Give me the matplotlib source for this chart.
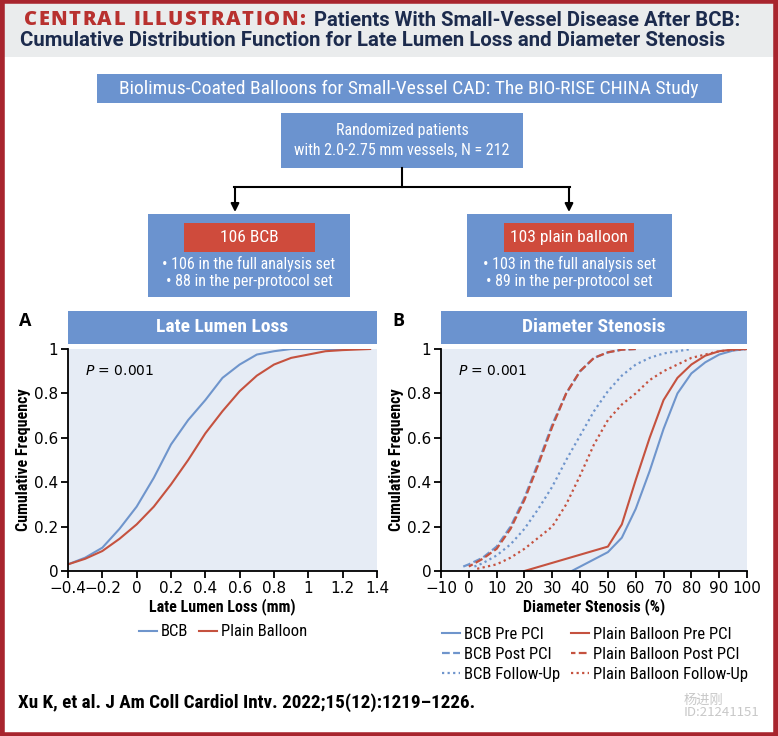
import matplotlib
matplotlib.use('Agg')
import matplotlib.pyplot as plt
from matplotlib.patches import Rectangle, FancyArrowPatch
from matplotlib.lines import Line2D
from matplotlib import font_manager

# 데이터: Late Lumen Loss (mm)
lll_bcb_x = [-0.4, -0.3, -0.2, -0.1, 0, 0.1, 0.2, 0.3, 0.4, 0.5, 0.6, 0.7, 0.8, 0.9, 1.0, 1.2]
lll_bcb_y = [0.03, 0.06, 0.105, 0.19, 0.29, 0.42, 0.57, 0.68, 0.77, 0.87, 0.93, 0.975, 0.99, 1.0, 1.0, 1.0]
lll_pb_x = [-0.4, -0.3, -0.2, -0.1, 0, 0.1, 0.2, 0.3, 0.4, 0.5, 0.6, 0.7, 0.8, 0.9, 1.0, 1.1, 1.2, 1.36]
lll_pb_y = [0.03, 0.055, 0.09, 0.145, 0.21, 0.29, 0.39, 0.5, 0.62, 0.72, 0.81, 0.88, 0.93, 0.96, 0.975, 0.99, 0.995, 1.0]

# 데이터: Diameter Stenosis (%)
ds_bcb_pre_x = [37, 50, 55, 60, 65, 70, 75, 80, 85, 90, 95, 100]
ds_bcb_pre_y = [0, 0.085, 0.15, 0.28, 0.45, 0.64, 0.8, 0.89, 0.94, 0.975, 0.993, 1.0]
ds_pb_pre_x = [20, 50, 55, 60, 65, 70, 75, 80, 85, 90, 95, 100]
ds_pb_pre_y = [0, 0.11, 0.21, 0.41, 0.6, 0.77, 0.87, 0.93, 0.97, 0.99, 0.998, 1.0]
ds_bcb_post_x = [-2, 0, 5, 10, 15, 20, 25, 30, 35, 40, 45, 50, 55, 60]
ds_bcb_post_y = [0.02, 0.03, 0.06, 0.11, 0.2, 0.33, 0.49, 0.66, 0.8, 0.9, 0.96, 0.985, 0.997, 1.0]
ds_pb_post_x = [0, 5, 10, 15, 20, 25, 30, 35, 40, 45, 50, 55, 60]
ds_pb_post_y = [0.02, 0.055, 0.1, 0.19, 0.32, 0.48, 0.65, 0.8, 0.9, 0.96, 0.985, 0.997, 1.0]
ds_bcb_fu_x = [2, 5, 10, 15, 20, 25, 30, 35, 40, 45, 50, 55, 60, 65, 70, 80]
ds_bcb_fu_y = [0.02, 0.035, 0.07, 0.12, 0.19, 0.28, 0.38, 0.5, 0.61, 0.72, 0.81, 0.88, 0.93, 0.96, 0.98, 1.0]
ds_pb_fu_x = [3, 10, 15, 20, 25, 30, 35, 40, 45, 50, 55, 60, 65, 70, 80, 90, 100]
ds_pb_fu_y = [0.01, 0.03, 0.06, 0.1, 0.15, 0.2, 0.3, 0.43, 0.57, 0.68, 0.75, 0.8, 0.86, 0.9, 0.96, 0.99, 1.0]

yticks = [0, 0.2, 0.4, 0.6, 0.8, 1]
ytick_labels = ['0', '0.2', '0.4', '0.6', '0.8', '1']
lll_ticks = [-0.4, -0.2, 0, 0.2, 0.4, 0.6, 0.8, 1.0, 1.2, 1.4]
lll_tick_labels = ['\u22120.4', '\u22120.2', '0', '0.2', '0.4', '0.6', '0.8', '1', '1.2', '1.4']
ds_ticks = list(range(-10, 101, 10))
ds_tick_labels = ['\u221210'] + [str(t) for t in ds_ticks[1:]]

# 색상
BLUE_BOX = '#6b93cf'
RED_BOX = '#cf4b3c'
PANEL_BG = '#e6ecf5'
LINE_BLUE = '#6f95cc'
LINE_RED = '#c5523f'
NAVY = '#1c2b4d'
TITLE_RED = '#b8312f'

# 글꼴 선택
names = set(f.name for f in font_manager.fontManager.ttflist)
if 'Roboto Condensed' in names:
    NARROW = ['Roboto Condensed', 'DejaVu Sans']
elif 'Liberation Sans Narrow' in names:
    NARROW = ['Liberation Sans Narrow', 'DejaVu Sans']
else:
    NARROW = ['Roboto', 'DejaVu Sans']
WIDE = ['Open Sans', 'DejaVu Sans']
TICKF = ['DejaVu Sans']
plt.rcParams['font.family'] = TICKF
plt.rcParams['mathtext.fontset'] = 'dejavusans'

W, H = 778, 736
fig = plt.figure(figsize=(W / 100, H / 100), dpi=100)
renderer = fig.canvas.get_renderer()


def fx(x):
    return x / W


def fy(y):
    return 1 - y / H


def rect(x0, y0, x1, y1, color, z=0):
    fig.add_artist(Rectangle((fx(x0), fy(y1)), (x1 - x0) / W, (y1 - y0) / H,
                             transform=fig.transFigure, facecolor=color,
                             edgecolor='none', zorder=z))


def text(x, y, s, **kw):
    return fig.text(fx(x), fy(y), s, **kw)


def fit(t, width):
    # 글자 폭을 참조 그림에 맞춤
    w = t.get_window_extent(renderer).width
    t.set_fontsize(t.get_fontsize() * width / w)
    return t.get_window_extent(renderer)


def spaced(x, y, s, width, **kw):
    # 자간을 넓힌 제목 글자
    glyphs = []
    for ch in s:
        g = text(0, 0, ch, ha='left', **kw)
        glyphs.append((ch, g, g.get_window_extent(renderer).width))
    space_w = 0.28 * kw['fontsize'] * 100 / 72
    natural = sum(w if ch != ' ' else space_w for ch, g, w in glyphs)
    gap = (width - natural) / (len(s) - 1)
    cur = x
    for ch, g, w in glyphs:
        if ch == ' ':
            g.remove()
            cur += space_w + gap
            continue
        g.set_position((fx(cur), fy(y)))
        cur += w + gap
    return cur - gap


# 상단 제목 영역
rect(0, 0, W, 57, '#eaeced')
end1 = spaced(24, 20, 'CENTRAL ILLUSTRATION:', 281, color=TITLE_RED, fontsize=14.5,
              fontweight='heavy', family=WIDE, va='center')
t2 = text(end1 + 9, 20, 'Patients With Small-Vessel Disease After BCB:', color=NAVY,
          fontsize=15, fontweight='bold', family=['Roboto', 'DejaVu Sans'], va='center', ha='left')
fit(t2, 742 - end1 - 9)
t3 = text(20, 40, 'Cumulative Distribution Function for Late Lumen Loss and Diameter Stenosis',
          color=NAVY, fontsize=15, fontweight='bold', family=['Roboto', 'DejaVu Sans'],
          va='center', ha='left')
fit(t3, 710)

# 흐름도 상자
rect(97, 74, 722, 103, BLUE_BOX)
text(409, 88.5, 'Biolimus-Coated Balloons for Small-Vessel CAD: The BIO-RISE CHINA Study',
     color='white', fontsize=14, family=NARROW, ha='center', va='center')
rect(281, 113, 523, 168, BLUE_BOX)
text(402, 131, 'Randomized patients', color='white', fontsize=11.5, family=NARROW,
     ha='center', va='center')
text(402, 150, 'with 2.0-2.75 mm vessels, N = 212', color='white', fontsize=11.5,
     family=NARROW, ha='center', va='center')

# 화살표
fig.add_artist(Line2D([fx(402), fx(402)], [fy(168), fy(187)], color='black', lw=1.5,
                      transform=fig.transFigure))
fig.add_artist(Line2D([fx(234), fx(570)], [fy(187), fy(187)], color='black', lw=1.5,
                      transform=fig.transFigure))
for ax_x in [235, 569]:
    fig.add_artist(FancyArrowPatch((fx(ax_x), fy(187)), (fx(ax_x), fy(212)),
                                   transform=fig.transFigure, arrowstyle='-|>',
                                   mutation_scale=12, color='black', lw=1.5,
                                   shrinkA=0, shrinkB=0))

groups = [(148, 350, 184, 315, '106 BCB', ['\u2022 106 in the full analysis set',
                                          '\u2022 88 in the per-protocol set']),
          (467, 672, 504, 634, '103 plain balloon', ['\u2022 103 in the full analysis set',
                                                     '\u2022 89 in the per-protocol set'])]
for bx0, bx1, rx0, rx1, head, lines in groups:
    rect(bx0, 214, bx1, 297, BLUE_BOX)
    rect(rx0, 223, rx1, 252, RED_BOX, z=1)
    text((rx0 + rx1) / 2, 237.5, head, color='white', fontsize=12.5, family=NARROW,
         ha='center', va='center', zorder=2)
    text((bx0 + bx1) / 2, 264, lines[0], color='white', fontsize=11.5, family=NARROW,
         ha='center', va='center')
    text((bx0 + bx1) / 2, 281, lines[1], color='white', fontsize=11.5, family=NARROW,
         ha='center', va='center')


def make_axes(x0, x1, label, title):
    rect(x0, 311, x1, 344, BLUE_BOX)
    text((x0 + x1) / 2, 327.5, title, color='white', fontsize=14, fontweight='bold',
         family=NARROW, ha='center', va='center')
    text(x0 - 49, 321, label, color='black', fontsize=13, fontweight='bold', family=WIDE,
         ha='left', va='center')
    ax = fig.add_axes([fx(x0), fy(571), (x1 - x0) / W, (571 - 349) / H])
    ax.set_facecolor(PANEL_BG)
    for s in ['top', 'right']:
        ax.spines[s].set_visible(False)
    for s in ['left', 'bottom']:
        ax.spines[s].set_linewidth(1.3)
    ax.tick_params(direction='out', length=5, width=1.3, labelsize=11, pad=2)
    ax.set_ylim(0, 1)
    ax.set_yticks(yticks)
    ax.set_yticklabels(ytick_labels)
    ax.set_ylabel('Cumulative Frequency', fontsize=11.5, fontweight='bold', family=NARROW,
                  labelpad=2)
    ax.text(0.055, 0.9, '$P$ = 0.001', transform=ax.transAxes, fontsize=10,
            ha='left', va='center')
    return ax


leg_kw = dict(bbox_transform=fig.transFigure, ncol=2, frameon=False, handlelength=1.1,
              columnspacing=0.6, handletextpad=0.25, labelspacing=0.3,
              prop={'family': NARROW, 'size': 12})

# A: Late Lumen Loss
axA = make_axes(68, 377, 'A', 'Late Lumen Loss')
axA.plot(lll_bcb_x, lll_bcb_y, color=LINE_BLUE, lw=1.5, label='BCB')
axA.plot(lll_pb_x, lll_pb_y, color=LINE_RED, lw=1.5, label='Plain Balloon')
axA.set_xlim(-0.4, 1.4)
axA.set_xticks(lll_ticks)
axA.set_xticklabels(lll_tick_labels)
axA.set_xlabel('Late Lumen Loss (mm)', fontsize=11.5, fontweight='bold', family=NARROW,
               labelpad=2)
axA.legend(loc='center', bbox_to_anchor=(fx(223), fy(632)), **leg_kw)

# B: Diameter Stenosis
axB = make_axes(441, 747, 'B', 'Diameter Stenosis')
axB.plot(ds_bcb_pre_x, ds_bcb_pre_y, color=LINE_BLUE, lw=1.5, label='BCB Pre PCI')
axB.plot(ds_bcb_post_x, ds_bcb_post_y, color=LINE_BLUE, lw=1.6, ls=(0, (3.5, 1.5)),
         label='BCB Post PCI')
axB.plot(ds_bcb_fu_x, ds_bcb_fu_y, color=LINE_BLUE, lw=1.6, ls=(0, (1, 1.5)),
         label='BCB Follow-Up')
axB.plot(ds_pb_pre_x, ds_pb_pre_y, color=LINE_RED, lw=1.5, label='Plain Balloon Pre PCI')
axB.plot(ds_pb_post_x, ds_pb_post_y, color=LINE_RED, lw=1.6, ls=(1.5, (3.5, 1.5)),
         label='Plain Balloon Post PCI')
axB.plot(ds_pb_fu_x, ds_pb_fu_y, color=LINE_RED, lw=1.6, ls=(0, (1, 1.5)),
         label='Plain Balloon Follow-Up')
axB.set_xlim(-10, 100)
axB.set_xticks(ds_ticks)
axB.set_xticklabels(ds_tick_labels)
axB.set_xlabel('Diameter Stenosis (%)', fontsize=11.5, fontweight='bold', family=NARROW,
               labelpad=2)
axB.legend(loc='upper center', bbox_to_anchor=(fx(595), fy(612)), **leg_kw)

# 인용
text(18, 703, 'Xu K, et al. J Am Coll Cardiol Intv. 2022;15(12):1219\u20131226.', color='black',
     fontsize=13.8, fontweight='bold', family=NARROW, ha='left', va='center')

# 워터마크
text(684, 706, '杨进刚\nID:21241151', color='#c8c8c8', fontsize=9.5,
     family=['Noto Sans CJK SC', 'DejaVu Sans'], ha='left', va='center', linespacing=0.9)

# 테두리
fig.add_artist(Rectangle((0.002, 0.002), 0.996, 0.996, transform=fig.transFigure,
                         facecolor='none', edgecolor='#a8252e', lw=4, zorder=10))

fig.savefig('out.png', dpi=100)
